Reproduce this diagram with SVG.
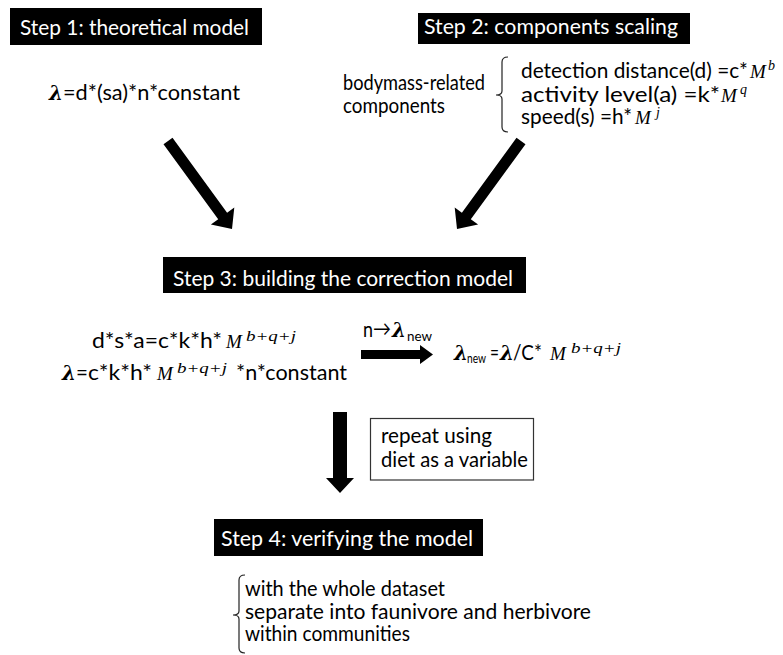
<svg xmlns="http://www.w3.org/2000/svg" width="783" height="655" viewBox="0 0 783 655">
  <style>
    text { font-family: Lato, "Open Sans", "Liberation Sans", sans-serif; font-size: 20.5px; fill: #000; }
    .hdr-bg { fill: #000; }
    .hdr { fill: #fff; }
    .math { font-family: "Liberation Serif", "DejaVu Serif", serif; font-style: italic; font-size: 19px; }
    .sup { font-family: "Liberation Serif", "DejaVu Serif", serif; font-style: italic; font-size: 14px; }
    .lam { font-family: "DejaVu Serif", "Liberation Serif", serif; font-weight: bold; font-style: italic; font-size: 20px; }
    .sub { font-size: 13px; }
    .brace { fill: none; stroke: #222; stroke-width: 1.2; }
    .block { fill: #000; }
    .note { fill: #fff; stroke: #333; stroke-width: 1.2; }
  </style>

  <!-- Step 1 -->
  <g id="step1">
    <rect class="hdr-bg" x="10" y="8" width="252" height="37"/>
    <text class="hdr" x="20" y="34.5" textLength="229" lengthAdjust="spacingAndGlyphs">Step 1: theoretical model</text>
    <text class="lam" x="49" y="100">λ</text>
    <text x="63" y="100" textLength="177" lengthAdjust="spacingAndGlyphs">=d*(sa)*n*constant</text>
  </g>

  <!-- Step 2 -->
  <g id="step2">
    <rect class="hdr-bg" x="418" y="13" width="272" height="31"/>
    <text class="hdr" x="424" y="34" textLength="254" lengthAdjust="spacingAndGlyphs">Step 2: components scaling</text>
    <text x="343" y="90" textLength="142" lengthAdjust="spacingAndGlyphs">bodymass-related</text>
    <text x="343" y="113" textLength="102" lengthAdjust="spacingAndGlyphs">components</text>
    <path class="brace" d="M508,57 Q502,57 502,62 L502,91 Q502,95 496,95 Q502,95 502,99 L502,127 Q502,132 508,132"/>
    <text x="521" y="78" textLength="227" lengthAdjust="spacingAndGlyphs">detection distance(d) =c*</text>
    <text class="math" x="750" y="78">M</text>
    <text class="sup" x="768" y="70">b</text>
    <text x="521" y="101.5" textLength="199" lengthAdjust="spacingAndGlyphs">activity level(a) =k*</text>
    <text class="math" x="721" y="101.5">M</text>
    <text class="sup" x="740" y="93.5">q</text>
    <text x="521" y="123.5" textLength="111" lengthAdjust="spacingAndGlyphs">speed(s) =h*</text>
    <text class="math" x="635" y="123.5">M</text>
    <text class="sup" x="656" y="116.5" font-size="13">j</text>
  </g>

  <!-- Step 3 -->
  <g id="step3">
    <rect class="hdr-bg" x="163" y="257" width="363" height="36"/>
    <text class="hdr" x="173" y="285.5" textLength="340" lengthAdjust="spacingAndGlyphs">Step 3: building the correction model</text>
    <text x="92" y="348" textLength="130" lengthAdjust="spacingAndGlyphs">d*s*a=c*k*h*</text>
    <text class="math" x="226" y="348">M</text>
    <text class="sup" x="246" y="340.5" textLength="50" lengthAdjust="spacingAndGlyphs">b+q+j</text>
    <text class="lam" x="62" y="380">λ</text>
    <text x="76" y="380">=</text>
    <text x="88" y="380" textLength="64" lengthAdjust="spacingAndGlyphs">c*k*h*</text>
    <text class="math" x="157" y="380">M</text>
    <text class="sup" x="177" y="372.5" textLength="50" lengthAdjust="spacingAndGlyphs">b+q+j</text>
    <text x="236" y="380" textLength="111" lengthAdjust="spacingAndGlyphs">*n*constant</text>
  </g>

  <!-- corrected density -->
  <g id="lambda-new">
    <text class="lam" x="454" y="360">λ</text>
    <text class="sub" x="467" y="363" textLength="19" lengthAdjust="spacingAndGlyphs">new</text>
    <text x="490" y="360" textLength="9" lengthAdjust="spacingAndGlyphs">=</text>
    <text class="lam" x="500" y="360">λ</text>
    <text x="513" y="360" textLength="29" lengthAdjust="spacingAndGlyphs">/C*</text>
    <text class="math" x="550" y="360">M</text>
    <text class="sup" x="571" y="352.5" textLength="50" lengthAdjust="spacingAndGlyphs">b+q+j</text>
  </g>

  <!-- repeat note -->
  <g id="repeat-note">
    <rect class="note" x="370.5" y="418.5" width="163" height="61.5"/>
    <text x="381" y="443" textLength="111" lengthAdjust="spacingAndGlyphs">repeat using</text>
    <text x="381" y="467" textLength="147" lengthAdjust="spacingAndGlyphs">diet as a variable</text>
  </g>

  <!-- Step 4 -->
  <g id="step4">
    <rect class="hdr-bg" x="214" y="519" width="269" height="37"/>
    <text class="hdr" x="221" y="546" textLength="252" lengthAdjust="spacingAndGlyphs">Step 4: verifying the model</text>
    <path class="brace" d="M245,575 Q239,575 239,580 L239,611 Q239,615 233,615 Q239,615 239,619 L239,648 Q239,653 245,653"/>
    <text x="245" y="596" textLength="200" lengthAdjust="spacingAndGlyphs">with the whole dataset</text>
    <text x="245" y="619" textLength="346" lengthAdjust="spacingAndGlyphs">separate into faunivore and herbivore</text>
    <text x="245" y="641" textLength="165" lengthAdjust="spacingAndGlyphs">within communities</text>
  </g>

  <!-- connectors -->
  <g id="connectors">
    <polygon class="block" points="163.5,144.2 218.2,219.3 210.9,224.6 232,229 234.3,207.5 227.1,212.8 172.5,137.8"/>
    <polygon class="block" points="525.5,144.2 470.8,219.3 478.1,224.6 457,229 454.7,207.5 461.9,212.8 516.5,137.8"/>
    <polygon class="block" points="361,350 420,350 420,345 433,354.5 420,364 420,359 361,359"/>
    <polygon class="block" points="333,412 347,412 347,478 354,478 340,493 326,478 333,478"/>
    <text x="363" y="337" textLength="10" lengthAdjust="spacingAndGlyphs">n</text>
    <text x="373" y="336" font-family="DejaVu Sans, sans-serif" font-size="17" textLength="18" lengthAdjust="spacingAndGlyphs">→</text>
    <text class="lam" x="392" y="337">λ</text>
    <text class="sub" x="407" y="341" textLength="25" lengthAdjust="spacingAndGlyphs">new</text>
  </g>
</svg>
